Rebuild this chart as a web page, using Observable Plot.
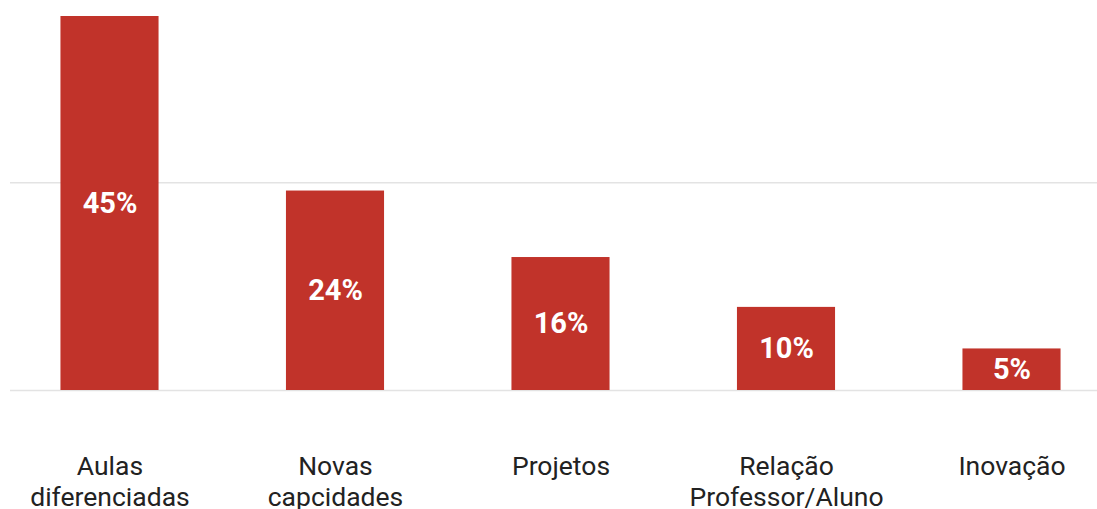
<!DOCTYPE html>
<html>
<head>
<meta charset="utf-8">
<script src="https://cdn.jsdelivr.net/npm/d3@7"></script>
<script src="https://cdn.jsdelivr.net/npm/@observablehq/plot@0.6"></script>
<style>
  html, body { margin: 0; padding: 0; background: #fff; }
  #chart svg { display: block; }
</style>
</head>
<body>
<div id="chart"></div>
<script>
const categories = ["Aulas diferenciadas", "Novas capcidades", "Projetos", "Relação Professor/Aluno", "Inovação"];
const tickLabels = ["Aulas\ndiferenciadas", "Novas\ncapcidades", "Projetos", "Relação\nProfessor/Aluno", "Inovação"];
const values = [45, 24, 16, 10, 5];
const valueLabels = ["45%", "24%", "16%", "10%", "5%"];
const gridTicks = [0, 25];

const data = categories.map((c, i) => ({category: c, value: values[i], label: valueLabels[i]}));

const chart = Plot.plot({
  width: 1097,
  height: 509,
  marginTop: 16,
  marginBottom: 119,
  marginLeft: 10,
  marginRight: 0,
  style: {fontFamily: "Roboto, sans-serif", background: "#fff"},
  x: {domain: categories, range: [-3.25, 1124.25], paddingInner: 0.565, paddingOuter: 0.2825, round: false, label: null},
  y: {domain: [0, 45], label: null, axis: null},
  marks: [
    Plot.gridY(gridTicks, {stroke: "#e3e3e3", strokeOpacity: 1, strokeWidth: 1.6}),
    Plot.barY(data, {x: "category", y: "value", fill: "#c1332a"}),
    Plot.text(data, {x: "category", y: d => d.value / 2, text: "label", fill: "#ffffff", fontSize: 29, fontWeight: "bold"}),
    Plot.axisX({
      tickSize: 0,
      tickPadding: 63,
      fontSize: 26.5,
      lineHeight: 1.15,
      lineAnchor: "top",
      fill: "#222",
      tickFormat: (d) => tickLabels[categories.indexOf(d)]
    })
  ]
});
document.getElementById("chart").appendChild(chart);
</script>
</body>
</html>
